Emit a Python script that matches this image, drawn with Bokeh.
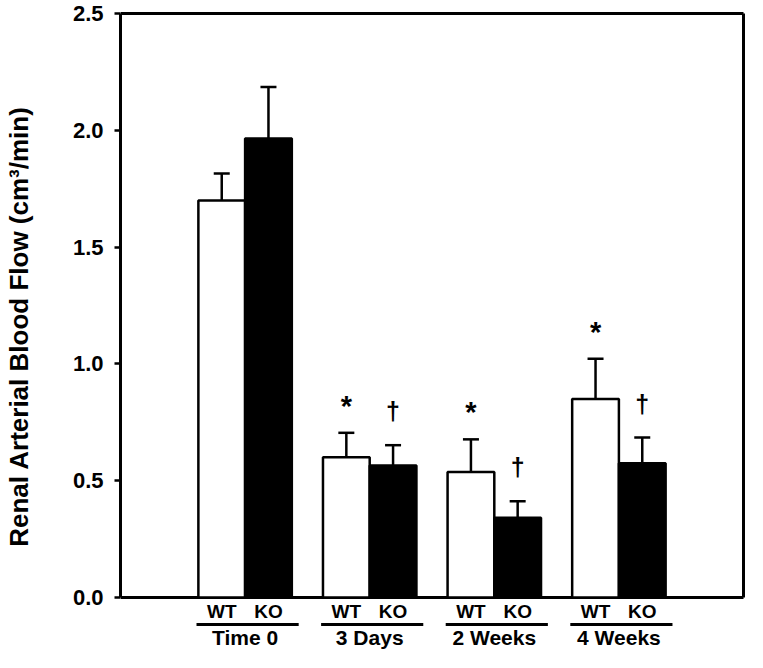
from bokeh.plotting import figure
from bokeh.models import Range1d, FixedTicker, Whisker, ColumnDataSource, TeeHead, NumeralTickFormatter
from bokeh.core.properties import value
from bokeh.embed import file_html
from bokeh.resources import INLINE

# ---- data ----
groups = ["Time 0", "3 Days", "2 Weeks", "4 Weeks"]
genotypes = ["WT", "KO"]
wt_mean = [1.70, 0.60, 0.537, 0.85]
wt_sem = [0.115, 0.105, 0.14, 0.172]
ko_mean = [1.965, 0.565, 0.341, 0.575]
ko_sem = [0.22, 0.087, 0.071, 0.11]
wt_mark = ["", "*", "*", "*"]
ko_mark = ["", "\u2020", "\u2020", "\u2020"]
y_ticks = [0.0, 0.5, 1.0, 1.5, 2.0, 2.5]
y_max = 2.5

FONT = "Liberation Sans"
W, H = 747, 652
top_px, zero_px = 13, 597
scale = (zero_px - top_px) / y_max
ymax = y_max + top_px / scale
ymin = -(H - zero_px) / scale

n = len(groups)
gx = [i + 1 for i in range(n)]
bw = 0.375
wt_x = [g - bw / 2 for g in gx]
ko_x = [g + bw / 2 for g in gx]
x_end = n + 1
left_b, right_b = 120, 2
frame_w = W - left_b - right_b

p = figure(width=W, height=H, x_range=Range1d(0, x_end * frame_w / (frame_w - 2)), y_range=Range1d(ymin, ymax),
           output_backend="svg", toolbar_location=None, x_axis_location=None,
           min_border_left=left_b, min_border_right=right_b, min_border_top=0, min_border_bottom=0)
p.outline_line_color = None
p.grid.visible = False
p.background_fill_color = "white"
p.border_fill_color = "white"

ax = p.yaxis[0]
ax.bounds = (0, y_max)
ax.ticker = FixedTicker(ticks=y_ticks)
ax.formatter = NumeralTickFormatter(format="0.0")
ax.major_label_text_font = FONT
ax.major_label_text_font_style = "bold"
ax.major_label_text_font_size = "22px"
ax.major_label_text_color = "black"
ax.major_label_standoff = 11
ax.major_tick_in = 0
ax.major_tick_out = 6
ax.major_tick_line_width = 2.5
ax.minor_tick_line_color = None
ax.axis_line_width = 3
ax.axis_label = "Renal Arterial Blood Flow (cm\u00b3/min)"
ax.axis_label_text_font = FONT
ax.axis_label_text_font_style = "bold"
ax.axis_label_text_font_size = "26px"
ax.axis_label_text_color = "black"
ax.axis_label_standoff = 36

# frame lines (top, right, bottom)
p.segment(x0=[0, x_end, 0], y0=[y_max, 0, 0], x1=[x_end, x_end, x_end], y1=[y_max, y_max, 0],
          line_color="black", line_width=3)

# bars
p.vbar(x=wt_x, top=wt_mean, bottom=0, width=bw, fill_color="white", line_color="black", line_width=2.5)
p.vbar(x=ko_x, top=ko_mean, bottom=0, width=bw, fill_color="black", line_color="black", line_width=2.5)

# upper error bars
for xs, m, s in ((wt_x, wt_mean, wt_sem), (ko_x, ko_mean, ko_sem)):
    src = ColumnDataSource(dict(x=xs, lower=m, upper=[a + b for a, b in zip(m, s)]))
    p.add_layout(Whisker(base="x", lower="lower", upper="upper", source=src, lower_head=None,
                         upper_head=TeeHead(size=16, line_width=2.5, line_color="black"),
                         line_width=2.5, line_color="black"))

# significance marks
p.text(x=wt_x, y=[a + b + 0.115 for a, b in zip(wt_mean, wt_sem)], text=wt_mark,
       text_align="center", text_baseline="middle", text_font=value(FONT), text_font_style="bold",
       text_font_size="29px", text_color="black")
p.text(x=ko_x, y=[a + b + 0.145 for a, b in zip(ko_mean, ko_sem)], text=ko_mark,
       text_align="center", text_baseline="middle", text_font=value(FONT), text_font_style="bold",
       text_font_size="25px", text_color="black")

# category labels below the axis
lab_y = -14 / scale
line_y = -27 / scale
grp_y = -40 / scale
p.text(x=wt_x + ko_x, y=[lab_y] * (2 * n), text=[genotypes[0]] * n + [genotypes[1]] * n,
       text_align="center", text_baseline="middle", text_font=value(FONT), text_font_style="bold",
       text_font_size="19px", text_color="black")
p.segment(x0=[g - 0.39 for g in gx], x1=[g + 0.43 for g in gx], y0=[line_y] * n, y1=[line_y] * n,
          line_color="black", line_width=3.2)
p.text(x=gx, y=[grp_y] * n, text=groups, text_align="center", text_baseline="middle",
       text_font=value(FONT), text_font_style="bold", text_font_size="21px", text_color="black")

open("out.html", "w").write(file_html(p, INLINE))
